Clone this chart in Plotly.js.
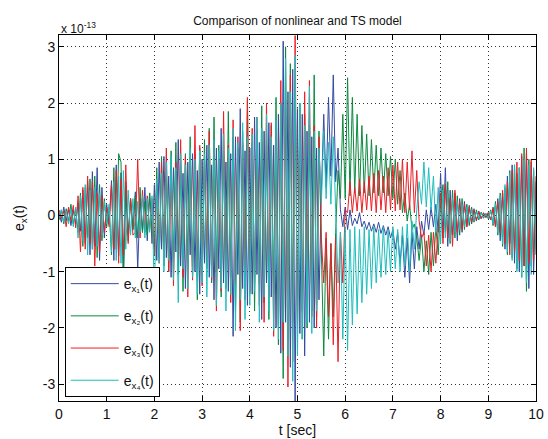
<!DOCTYPE html>
<html>
<head>
<meta charset="utf-8">
<script src="https://cdn.plot.ly/plotly-3.0.1.min.js"></script>
<style>html,body{margin:0;padding:0;background:#fff;}#chart{width:548px;height:439px;}</style>
</head>
<body>
<div id="chart"></div>
<script>
// sample step of the recorded signals (seconds), values in units of 1e-13
const dt = 0.05;

const seriesNames = ["e<sub>x₁</sub>(t)", "e<sub>x₂</sub>(t)", "e<sub>x₃</sub>(t)", "e<sub>x₄</sub>(t)"];
const seriesColors = ["#344aa2", "#0b8a3f", "#ec1f26", "#1fbdbd"];

const ex1 = [
  0.05, -0.12, 0.15, -0.10, 0.12, -0.18, 0.10, -0.15, 0.22, -0.28, 0.45, -0.50, 0.62, -0.70, 0.78, -0.55, 0.85, -0.80, 0.50, -0.40,
  0.20, -0.15, 0.62, -0.80, 0.90, -0.72, 0.76, -1.00, 0.50, -0.35, 0.30, -0.25, 0.42, -0.95, 0.30, -0.30, 0.50, -0.45, 0.40, -0.50,
  0.55, -0.80, 0.95, -0.60, 1.05, -0.75, 0.70, -1.10, 0.85, -0.65, 1.35, -0.90, 0.75, -1.30, 0.95, -0.70, 1.10, -1.00, 0.80, -1.40,
  1.00, -0.85, 1.25, -1.10, 0.90, -1.50, 1.20, -0.95, 1.55, -1.20, 0.95, -1.35, 1.10, -2.15, 1.40, -1.05, 1.90, -1.30, 1.15, -1.60,
  1.20, -1.40, 1.75, -1.05, 1.30, -1.85, 1.50, -1.20, 1.65, -1.45, 1.25, -2.00, 1.80, -2.45, 3.10, -1.90, 2.20, -2.70, 2.60, -3.30,
  1.90, -2.10, 1.80, -2.50, 1.50, -1.90, 1.40, -2.00, 1.20, -1.50, 0.40, 1.80, 0.50, 2.10, 0.70, 2.50, 0.60, 1.20, 0.10, -0.20,
  0.15, -0.25, 0.10, -0.18, -0.05, -0.15, 0.05, -0.20, -0.10, -0.25, -0.12, -0.28, -0.15, -0.30, -0.12, -0.32, -0.18, -0.35, -0.20, -0.40,
  -0.25, -0.60, -0.30, -0.85, -0.35, -1.10, -0.40, -1.20, -0.30, -0.95, -0.20, -0.60, -0.10, -0.35, 0.10, -0.25, 0.15, -0.20, 0.20, -0.30,
  0.75, -0.40, 0.85, -0.55, 0.45, -0.35, 0.40, -0.45, 0.30, -0.30, 0.25, -0.20, 0.18, -0.15, 0.12, -0.10, 0.08, -0.06, 0.05, -0.04,
  0.05, -0.08, 0.15, -0.20, 0.30, -0.45, 0.40, -0.60, 0.70, -0.50, 0.90, -0.85, 0.75, -1.00, 1.05, -0.90, 1.10, -1.30, 0.95, -1.05,
  0.60
];

const ex2 = [
  -0.08, 0.10, -0.15, 0.12, -0.10, 0.20, -0.15, 0.10, -0.30, 0.40, -0.55, 0.50, -0.40, 0.65, -0.60, 0.70, -0.75, 0.55, -0.45, 0.30,
  -0.20, 0.15, -0.70, 0.85, -0.60, 1.10, 0.95, -1.25, 0.60, -0.45, 0.30, -0.25, 0.35, -0.40, 0.50, -0.30, 0.25, -0.35, 0.40, -0.30,
  -0.60, 0.85, -0.75, 1.05, -0.90, 0.70, -1.00, 1.15, -0.80, 1.30, -1.05, 0.90, -1.35, 1.10, -0.85, 1.40, -1.10, 0.95, -1.50, 1.20,
  -1.05, 1.35, -0.95, 1.55, -1.20, 1.75, -1.00, 1.25, -1.45, 1.15, -1.30, 1.85, -1.10, 1.40, -1.70, 1.20, -1.90, 1.50, -1.25, 2.05,
  -1.40, 1.30, -1.70, 1.50, -1.20, 1.95, -1.55, 1.35, -1.85, 1.60, -1.40, 2.10, -2.30, 2.00, -2.90, 3.00, -2.20, 2.70, -1.90, 2.40,
  -1.90, 2.00, -2.20, 1.80, -2.00, 1.60, -1.70, 2.50, -1.80, 1.50, -0.60, -2.50, -0.40, -2.20, -0.50, -1.80, -0.30, 0.80, 0.30, 1.80,
  0.30, 2.45, 0.35, 2.10, 0.40, 1.80, 0.35, 1.60, 0.40, 1.45, 0.35, 1.35, 0.40, 1.25, 0.35, 1.20, 0.40, 1.10, 0.35, 1.05,
  0.30, 1.00, 0.20, 0.80, 0.05, 0.40, -0.10, 0.20, -0.25, -0.15, -0.40, -0.80, -0.35, -1.00, -0.45, -1.05, -0.30, -0.90, -0.20, -0.70,
  0.20, 0.55, -0.30, 0.60, -0.50, 0.45, -0.40, 0.35, -0.35, 0.30, -0.25, 0.20, -0.18, 0.15, -0.12, 0.10, -0.08, 0.06, -0.05, 0.04,
  -0.06, 0.10, -0.18, 0.25, -0.35, 0.40, -0.55, 0.50, -0.70, 0.80, -0.75, 0.90, -0.95, 0.85, -1.10, 1.20, -1.35, 1.00, -0.90, 0.80,
  -0.70
];

const ex3 = [
  0.10, -0.05, 0.08, -0.20, 0.15, -0.10, 0.18, -0.22, 0.35, -0.65, 0.50, -0.60, 0.70, -0.50, 0.60, -0.90, 0.40, -0.65, 0.35, -0.30,
  0.15, -0.20, 0.55, -0.60, 0.80, -0.85, 0.65, -0.70, 0.90, -0.50, 0.30, -0.35, -0.30, 1.00, -0.40, 0.45, -0.30, 0.35, -0.25, 0.30,
  -0.70, 0.55, -0.85, 0.95, -0.65, 1.20, -1.00, 0.80, -1.25, 0.95, -0.80, 1.35, -1.10, 1.05, -1.45, 0.90, -1.15, 1.60, -0.95, 1.25,
  -1.25, 1.05, -0.90, 1.50, -1.15, 1.30, -1.70, 1.00, -1.35, 1.85, -1.05, 1.25, -1.55, 1.70, -1.20, 1.40, -2.05, 1.30, -1.50, 2.10,
  -1.35, 1.55, -1.20, 1.75, -1.60, 1.30, -1.90, 2.00, -1.45, 1.65, -2.15, 1.45, -1.95, 2.40, -2.40, 2.05, -3.05, 2.50, -2.60, 3.20,
  -2.00, 1.80, -1.70, 2.20, -1.50, 2.40, -1.80, 1.60, -2.00, 1.40, -0.40, -1.20, -0.30, -1.80, -0.50, -2.30, -0.40, -2.60, -0.30, -1.20,
  0.10, 0.05, 0.60, 0.05, 0.50, 0.08, 0.65, 0.05, 0.60, 0.10, 0.70, 0.08, 0.75, 0.05, 0.80, 0.10, 0.70, 0.05, 0.85, 0.10,
  0.90, 0.08, 0.95, 0.10, 1.00, 0.05, 0.95, 0.10, 1.15, 0.05, 0.80, -0.10, -0.40, -0.30, -0.90, -0.35, -1.00, -0.30, -0.85, -0.20,
  0.40, -0.50, 0.55, -0.40, 0.30, -0.55, 0.45, -0.30, 0.25, -0.25, 0.20, -0.20, 0.15, -0.12, 0.10, -0.08, 0.06, -0.05, 0.04, -0.03,
  0.05, -0.08, 0.12, -0.20, 0.25, -0.30, 0.45, -0.50, 0.60, -0.70, 0.80, -0.65, 0.95, -0.80, 1.10, -0.90, 1.20, -0.85, 1.00, -0.80,
  0.70
];

const ex4 = [
  -0.05, 0.10, -0.12, 0.08, -0.15, 0.12, -0.20, 0.15, -0.40, 0.35, -0.45, 0.55, -0.70, 0.45, -0.60, 0.50, -0.55, 0.40, -0.35, 0.25,
  -0.15, 0.20, -0.65, 0.60, -0.80, 0.70, -0.85, 0.80, -0.60, 0.45, -0.35, 0.30, -0.40, 0.25, -0.30, 0.35, -0.40, 0.30, -0.30, 0.35,
  -1.45, 0.65, -0.85, 0.75, -1.00, 0.95, -0.80, 1.05, -1.15, 0.85, -1.55, 1.10, -0.95, 0.90, -1.30, 1.20, -1.10, 1.00, -1.40, 1.15,
  -1.20, 1.10, -1.45, 1.25, -1.10, 1.35, -1.60, 1.15, -1.30, 1.45, -1.70, 1.20, -1.40, 1.55, -2.05, 1.30, -1.50, 1.65, -1.85, 1.40,
  -1.60, 1.45, -1.35, 1.75, -1.90, 1.55, -1.45, 1.80, -1.70, 1.40, -2.05, 1.70, -2.20, 2.00, -1.90, 2.80, -2.50, 2.20, -2.95, 2.85,
  -2.50, 2.00, -2.20, 1.60, -1.90, 2.30, -2.10, 1.50, -1.70, 1.20, 0.20, 1.50, 0.30, 1.30, 0.20, 1.40, 0.10, -1.20, -0.30, -2.20,
  -0.20, -2.40, -0.25, -1.95, -0.20, -1.75, -0.25, -1.55, -0.20, -1.40, -0.25, -1.30, -0.20, -1.20, -0.25, -1.10, -0.20, -1.05, -0.25, -1.00,
  -0.20, -0.95, -0.25, -1.00, -0.20, -0.90, -0.15, -1.00, -0.10, -0.60, 0.10, 0.60, 0.20, 0.95, 0.15, 0.85, 0.10, 0.70, -0.30, 0.50,
  -0.50, 0.45, -0.40, 0.35, -0.45, 0.30, -0.30, 0.25, -0.25, 0.20, -0.20, 0.15, -0.12, 0.10, -0.08, 0.06, -0.05, 0.04, -0.03, 0.02,
  -0.04, 0.08, -0.15, 0.20, -0.30, 0.35, -0.50, 0.55, -0.65, 0.75, -0.80, 0.90, -1.00, 0.85, -1.10, 1.00, -1.20, 0.90, -1.05, 0.85,
  -0.60
];

const xTicks = [0, 1, 2, 3, 4, 5, 6, 7, 8, 9, 10];
const yTicks = [-3, -2, -1, 0, 1, 2, 3];

const allSeries = [ex1, ex2, ex3, ex4];
const traces = allSeries.map((vals, k) => ({
  type: "scatter",
  mode: "lines",
  x: vals.map((_, i) => +(i * dt).toFixed(2)),
  y: vals,
  name: seriesNames[k],
  legendgroup: "g" + k,
  line: {color: seriesColors[k], width: 1}
}));

const FONT = "Liberation Sans, Arial, Helvetica, sans-serif";
const axisCommon = {
  showline: true, mirror: "ticks", linecolor: "#000", linewidth: 1,
  ticks: "inside", ticklen: 5, tickcolor: "#000", tickwidth: 1,
  showgrid: true, gridcolor: "#333", gridwidth: 1, griddash: "1px,3px",
  zeroline: false, tickfont: {family: FONT, size: 14, color: "#111"}
};

const layout = {
  width: 548, height: 439,
  margin: {l: 59, r: 12, t: 35, b: 38, pad: 0},
  paper_bgcolor: "#fff", plot_bgcolor: "#fff",
  font: {family: FONT, color: "#111"},
  title: {text: "Comparison of nonlinear and TS model", font: {family: FONT, size: 12, color: "#111"},
          x: 0.5, xref: "paper", xanchor: "center", y: 1 - 21 / 439, yref: "container", yanchor: "middle"},
  xaxis: Object.assign({}, axisCommon, {range: [0, 10], tickvals: xTicks, ticktext: xTicks.map(String),
          title: {text: "t [sec]", font: {family: FONT, size: 14, color: "#111"}, standoff: 0}}),
  yaxis: Object.assign({}, axisCommon, {range: [-3.3, 3.21], tickvals: yTicks, ticktext: yTicks.map(String),
          title: {text: "e<sub>x</sub>(t)", font: {family: FONT, size: 14, color: "#111"}, standoff: 14}}),
  showlegend: true,
  legend: {x: 0.012, y: 0.366, xanchor: "left", yanchor: "top", bgcolor: "#fff", bordercolor: "#000", borderwidth: 1,
           font: {family: FONT, size: 14, color: "#111"}, tracegroupgap: 11, itemwidth: 48, traceorder: "grouped"},
  annotations: [{text: "x 10<sup>-13</sup>", xref: "paper", yref: "paper", x: 0, y: 1, xanchor: "left", yanchor: "bottom",
                 yshift: -3, showarrow: false, font: {family: FONT, size: 12, color: "#111"}}]
};

Plotly.newPlot("chart", traces, layout, {staticPlot: true, displayModeBar: false});
</script>
</body>
</html>
